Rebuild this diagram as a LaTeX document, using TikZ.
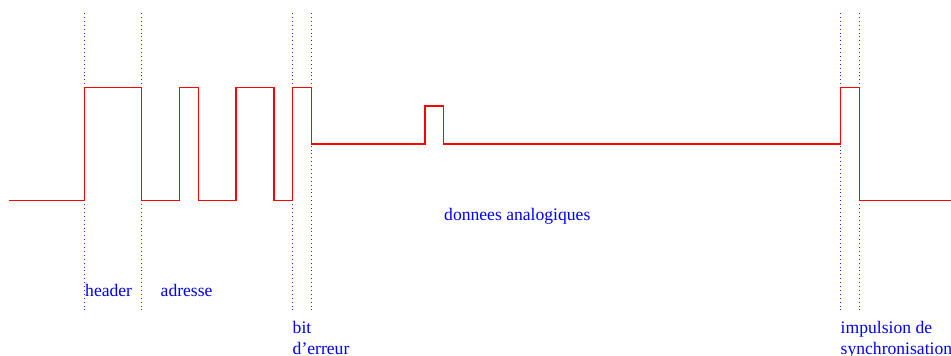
\documentclass[tikz,border=0pt]{standalone}
\usepackage{fontspec}
\setmainfont{Liberation Serif}
\usepackage{tikz}
\usetikzlibrary{positioning}
\tikzset{
    signal/.style={
        line width=1.2pt,
        red,
        line join=miter
    },
    % lignes de repere en pointilles
    repere/.style={
        line width=0.9pt,
        blue!85,
        dash pattern=on 0.9pt off 3pt
    },
    legende/.style={
        blue,
        anchor=base west,
        inner sep=0pt,
        font=\fontsize{17.6}{21}\selectfont
    }
}

\begin{document}
\begin{tikzpicture}[x=1pt,y=-1pt]
    \useasboundingbox (0,0) rectangle (951,356);
    % ===================== reperes =====================
    \path
    (84.5,13) coordinate (h1)
    (141.5,13) coordinate (h2)
    (292.5,13) coordinate (h3)
    (311.5,13) coordinate (h4)
    (840.5,13) coordinate (h5)
    (859.5,13) coordinate (h6);
    \foreach \c in {h1,h2,h3,h4,h5,h6}
      \draw[repere] (\c) -- ++(0,299);

    % ===================== signal =====================
    \draw[signal] (9,200.5) -- (84.5,200.5)
      |- (141.5,87.5) |- (179.5,200.5) |- (198.5,87.5) |- (236,200.5)
      |- (274,87.5) |- (292.5,200.5) |- (311.5,87.5)
      |- (425,144) |- (443.5,106) |- (840.5,144)
      |- (859.5,87.5) |- (951,200.5);
    \draw[signal,line width=1.6pt] (595,143.8) -- (614,143.8);
    \draw[signal,line width=1.6pt] (803,143.8) -- (840.5,143.8);

    %label
    \node[legende] (header) at (85,296.5) {header};
    \node[legende] (adresse) at (160.5,296.5) {adresse};
    \node[legende] (bit) at (292.5,333) {bit};
    \node[legende] (erreur) at (292.5,354) {d'erreur};
    \node[legende] (donnees) at (444,220) {donnees analogiques};
    \node[legende] (impulsion) at (840.5,333) {impulsion de};
    \node[legende] (synchro) at (840.5,354) {synchronisation};
\end{tikzpicture}
\end{document}
